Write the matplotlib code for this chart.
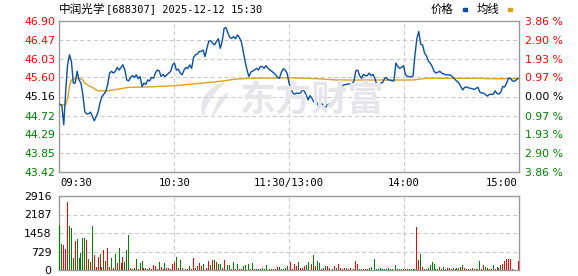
import numpy as np
import matplotlib
matplotlib.use('Agg')
import matplotlib.pyplot as plt
from matplotlib.patches import Rectangle, PathPatch
from matplotlib.path import Path

# ---- data ----
title_name = '中润光学'
title_rest = '[688307] 2025-12-12 15:30'
prev_close = 45.16

price_ticks = [43.42, 43.85, 44.29, 44.72, 45.16, 45.60, 46.03, 46.47, 46.90]
pct_labels = ['3.86 %', '2.90 %', '1.93 %', '0.97 %', '0.00 %', '0.97 %', '1.93 %', '2.90 %', '3.86 %']
vol_ticks = [0, 729, 1458, 2187, 2916]
time_ticks = [0, 60, 120, 180, 240]
time_labels = ['09:30', '10:30', '11:30/13:00', '14:00', '15:00']

# one value per minute, 09:30 .. 15:00 (241 points)
price = [
    44.98, 44.95, 44.51, 45.28, 45.89, 46.12, 45.97, 45.47, 45.47, 45.74,
    45.54, 45.47, 45.20, 44.81, 44.76, 44.76, 44.80, 44.70, 44.60, 44.70,
    44.81, 45.02, 45.16, 45.21, 45.28, 45.43, 45.70, 45.74, 45.70, 45.74,
    45.83, 45.77, 45.83, 45.89, 45.77, 45.54, 45.52, 45.60, 45.64, 45.60,
    45.66, 45.57, 45.62, 45.39, 45.47, 45.44, 45.54, 45.52, 45.60, 45.58,
    45.70, 45.77, 45.75, 45.62, 45.67, 45.62, 45.66, 45.70, 45.74, 45.89,
    45.93, 45.77, 45.79, 45.70, 45.66, 45.77, 45.83, 45.81, 45.89, 45.81,
    46.06, 46.12, 46.14, 46.20, 46.20, 46.23, 46.08, 46.27, 46.44, 46.44,
    46.39, 46.35, 46.43, 46.49, 46.27, 46.43, 46.73, 46.75, 46.62, 46.52,
    46.50, 46.54, 46.49, 46.58, 46.52, 46.43, 46.20, 45.97, 45.77, 45.62,
    45.72, 45.75, 45.77, 45.81, 45.77, 45.85, 45.85, 45.81, 45.87, 45.81,
    45.77, 45.74, 45.70, 45.66, 45.60, 45.58, 45.72, 45.80, 45.77, 45.70,
    45.47, 45.35, 45.24, 45.21, 45.24, 45.23, 45.24, 45.31, 45.28, 45.20,
    45.08, 45.18, 45.12, 45.03, 45.08, 44.97, 44.93, 45.01, 44.95, 44.89,
    44.97, 44.98, 45.01, 45.03, 45.04, 45.12, 45.39, 45.35, 45.41, 45.43,
    45.44, 45.45, 45.45, 45.46, 45.51, 45.75, 45.77, 45.64, 45.58, 45.67,
    45.64, 45.64, 45.70, 45.64, 45.67, 45.58, 45.43, 45.41, 45.47, 45.48,
    45.57, 45.60, 45.54, 45.54, 45.52, 45.52, 45.93, 45.85, 45.81, 45.83,
    45.87, 45.67, 45.62, 45.62, 45.61, 45.64, 46.12, 46.50, 46.66, 46.36,
    46.35, 46.16, 46.10, 45.98, 45.93, 45.85, 45.74, 45.70, 45.72, 45.74,
    45.70, 45.68, 45.66, 45.66, 45.66, 45.64, 45.60, 45.55, 45.51, 45.47,
    45.39, 45.31, 45.37, 45.38, 45.36, 45.35, 45.34, 45.32, 45.35, 45.37,
    45.26, 45.24, 45.24, 45.20, 45.17, 45.21, 45.21, 45.21, 45.29, 45.23,
    45.22, 45.26, 45.39, 45.38, 45.47, 45.58, 45.58, 45.52, 45.51, 45.54,
    45.58,
]

# average price line, sampled where it bends
avg_minutes = [0, 3, 4, 5, 6, 8, 10, 12, 13, 15, 17, 19, 20, 25, 29, 36, 46, 60,
               75, 84, 92, 99, 120, 128, 135, 145, 180, 185, 192, 222, 223, 240]
avg_price = [44.97, 44.97, 45.12, 45.39, 45.54, 45.57, 45.58, 45.54, 45.47, 45.41,
             45.37, 45.31, 45.29, 45.29, 45.32, 45.37, 45.38, 45.41, 45.47, 45.51,
             45.56, 45.58, 45.59, 45.58, 45.57, 45.54, 45.54, 45.54, 45.58, 45.58,
             45.57, 45.57]

volume = [
    1774, 1012, 985, 828, 2694, 1734, 1669, 486, 1143, 1222,
    486, 657, 1248, 1248, 1183, 420, 302, 1734, 591, 131,
    512, 618, 118, 788, 355, 854, 131, 460, 92, 631,
    263, 854, 263, 512, 302, 788, 1380, 66, 39, 79,
    434, 26, 263, 342, 66, 79, 39, 66, 39, 197,
    171, 39, 302, 131, 53, 263, 79, 79, 53, 223,
    315, 512, 66, 394, 66, 145, 39, 39, 145, 39,
    473, 66, 145, 276, 145, 237, 197, 66, 355, 197,
    394, 394, 315, 237, 237, 79, 394, 171, 197, 197,
    39, 315, 39, 237, 39, 39, 145, 197, 145, 237,
    39, 263, 39, 39, 39, 39, 92, 39, 197, 92,
    39, 39, 39, 39, 118, 118, 39, 39, 92, 145,
    394, 302, 39, 237, 171, 315, 79, 79, 171, 197,
    315, 473, 223, 591, 171, 355, 276, 53, 92, 171,
    171, 66, 26, 39, 171, 92, 237, 79, 26, 92,
    92, 26, 92, 39, 26, 355, 237, 39, 39, 39,
    39, 39, 66, 118, 66, 447, 39, 39, 92, 39,
    39, 39, 79, 39, 39, 591, 197, 39,
    39, 39, 39, 39, 39, 39, 39, 39, 39, 1708,
    394, 631, 105, 39, 39, 66, 197, 315, 237, 39,
    39, 105, 39, 105, 39, 66, 92, 39, 92, 39,
    92, 66, 105, 197, 92, 39, 39, 39, 92, 39,
    39, 39, 355, 39, 197, 118, 92, 39, 39, 197,
    39, 118, 66, 197, 237, 355, 447, 447, 447, 39,
    0, 0, 355,
]
# r = up (red), g = down (green), same rows as volume
vol_dir = ''.join([
    'ggrrrgggrg', 'ggggrgrgrr', 'rgrrgrrgrg', 'rgrrgggrrr', 'grggrrggrr', 'rrgrrgrrrr',
    'rgrgrrgrgr', 'rrgrrggrrg', 'rgrggrrggg', 'rgrgrrgggg', 'rgrrrrgggr', 'ggggrrgggg',
    'grrrrgrrrg', 'grrgrggrrg', 'rrrgrgrrrr', 'grrrrrrggr', 'rrggrgrrrr', 'rggrrrgg',
    'gggrgrgrrr', 'rgrrgggggg', 'grgggrrggr', 'ggrgrrrgrg', 'rggrrggrrg', 'rgrgrrrrrg',
    'ggr',
])

# ---- styling ----
RED = '#ff0000'
GREEN = '#008000'
BLUE = '#0b4fa3'
ORANGE = '#dfa11e'
GRID = '#c8c8c8'
FRAME = '#999999'
WMARK = '#e6e6ea'
NUM_FONT = 'DejaVu Sans'
CJK_FONT = 'Noto Sans CJK SC'
DASH = (0, (3.8, 2.8))

W, H = 578, 276
fig = plt.figure(figsize=(W / 100, H / 100), dpi=100)
fig.patch.set_facecolor('white')


def fpt(px, py):
    # pixel position (from top-left) -> figure fraction
    return px / W, 1 - py / H


ax = fig.add_axes([59 / W, 1 - 172 / H, 460 / W, 151 / H])
axv = fig.add_axes([59 / W, 1 - 270 / H, 460 / W, 74 / H])

# watermark: logo + name
fig.text(*fpt(312, 100), '东方财富', family=CJK_FONT, fontsize=26,
         fontweight='bold', color=WMARK, ha='center', va='center', zorder=0)
leaf = Path([fpt(203, 118), fpt(196, 100), fpt(210, 84), fpt(226, 82),
             fpt(214, 92), fpt(206, 104), fpt(203, 118)],
            [Path.MOVETO, Path.CURVE4, Path.CURVE4, Path.CURVE4,
             Path.CURVE4, Path.CURVE4, Path.CURVE4])
fig.add_artist(PathPatch(leaf, transform=fig.transFigure, fc=WMARK, ec='none', zorder=0))
leaf2 = Path([fpt(212, 117), fpt(214, 104), fpt(222, 94), fpt(229, 92),
              fpt(224, 102), fpt(218, 110), fpt(212, 117)],
             [Path.MOVETO, Path.CURVE4, Path.CURVE4, Path.CURVE4,
              Path.CURVE4, Path.CURVE4, Path.CURVE4])
fig.add_artist(PathPatch(leaf2, transform=fig.transFigure, fc=WMARK, ec='none', zorder=0))

minutes = np.arange(len(price))

for a in (ax, axv):
    a.set_xlim(-0.5, 240.5)
    a.set_facecolor('none')
    a.set_xticks(time_ticks)
    a.tick_params(length=0)
    for t in time_ticks[1:-1]:
        a.axvline(t, color=GRID, lw=0.75, ls=DASH, zorder=1)
    for s in a.spines.values():
        s.set_color(FRAME)
        s.set_linewidth(1.0)

for v in price_ticks[1:-1]:
    ax.axhline(v, color=GRID, lw=0.75, ls=DASH, zorder=1)
for v in vol_ticks[1:-1]:
    axv.axhline(v, color=GRID, lw=0.75, ls=DASH, zorder=1)

ax.plot(avg_minutes, avg_price, color=ORANGE, lw=1.0, zorder=3)
ax.plot(minutes, price, color=BLUE, lw=1.0, zorder=4)

ax.set_ylim(price_ticks[0], price_ticks[-1])
ax.set_yticks(price_ticks)
ax.set_yticklabels([f'{v:.2f}' for v in price_ticks], family=NUM_FONT, fontsize=7.8)
ax.tick_params(axis='y', pad=2.5)
for lab, v in zip(ax.get_yticklabels(), price_ticks):
    lab.set_color(RED if v > prev_close + 0.001 else (GREEN if v < prev_close - 0.001 else 'black'))

ax.set_xticklabels(time_labels, family='DejaVu Sans Mono', fontsize=7.6)
ax.tick_params(axis='x', pad=4)
xl = ax.get_xticklabels()
xl[0].set_ha('left')
xl[-1].set_ha('right')

ax2 = ax.twinx()
ax2.set_ylim(price_ticks[0], price_ticks[-1])
ax2.set_yticks(price_ticks)
ax2.set_yticklabels(pct_labels[::-1], family=NUM_FONT, fontsize=7.8)
ax2.tick_params(length=0, pad=4)
for s in ax2.spines.values():
    s.set_visible(False)
for lab, v in zip(ax2.get_yticklabels(), price_ticks):
    lab.set_color(RED if v > prev_close + 0.001 else (GREEN if v < prev_close - 0.001 else 'black'))

# volume bars
bar_colors = [RED if c == 'r' else GREEN for c in vol_dir]
axv.bar(minutes[:len(volume)], volume, width=0.5, color=bar_colors[:len(volume)],
        linewidth=0, zorder=3)
axv.set_ylim(vol_ticks[0], vol_ticks[-1])
axv.set_yticks(vol_ticks)
axv.set_yticklabels([str(v) for v in vol_ticks], family=NUM_FONT, fontsize=7.8)
axv.tick_params(axis='y', pad=5.5)
axv.set_xticklabels([])

# title and legend
fig.text(*fpt(59, 9.5), title_name, family=CJK_FONT, fontsize=8.4,
         ha='left', va='center')
fig.text(*fpt(106, 9.5), title_rest, family='DejaVu Sans Mono', fontsize=7.5,
         ha='left', va='center')
fig.text(*fpt(431, 9.5), '价格', family=CJK_FONT, fontsize=8.2,
         ha='left', va='center')
fig.text(*fpt(477, 9.5), '均线', family=CJK_FONT, fontsize=8.2,
         ha='left', va='center')
fig.add_artist(Rectangle(fpt(462.5, 11), 4 / W, 3 / H,
                         transform=fig.transFigure, color=BLUE))
fig.add_artist(Rectangle(fpt(507.5, 11), 4.5 / W, 3 / H,
                         transform=fig.transFigure, color=ORANGE))

fig.savefig('out.png', dpi=100)
